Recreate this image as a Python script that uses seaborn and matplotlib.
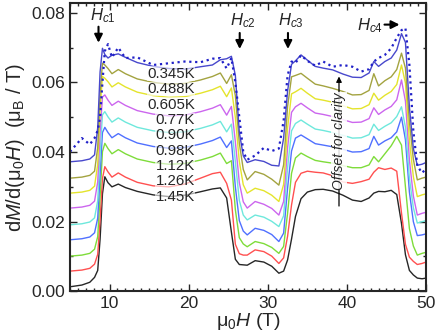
import pandas as pd
import seaborn as sns
import matplotlib.pyplot as plt
from matplotlib.ticker import MultipleLocator

# field grid (T) shared by all curves
field = [5.0, 6.5, 7.5, 8.1, 8.5, 8.8, 9.1, 9.4, 9.8, 10.3, 11.1, 12.0, 13.5, 15.5, 17.5, 19.5,
         21.5, 23.0, 24.0, 24.8, 25.4, 25.9, 26.4, 26.9, 27.4, 28.4, 29.5, 30.5, 31.4, 32.0,
         32.5, 33.0, 33.5, 34.2, 35.0, 36.0, 37.0, 38.2, 39.5, 40.7, 41.8, 42.8, 43.4, 44.0,
         44.8, 45.6, 46.3, 46.9, 47.4, 47.9, 48.4, 48.9, 49.5, 50.0]

# dM/d(mu0H), already offset for clarity
t145 = [0.0013, 0.0018, 0.0026, 0.0040, 0.0060, 0.0150, 0.0280, 0.0329,
        0.0312, 0.0300, 0.0308, 0.0298, 0.0287, 0.0277, 0.0272, 0.0276, 0.0286, 0.0294, 0.0297, 0.0268, 0.0170,
        0.0092, 0.0077, 0.0076, 0.0075, 0.0088, 0.0084, 0.0072, 0.0052,
        0.0058, 0.0090, 0.0150, 0.0215, 0.0266,
        0.0285, 0.0292, 0.0293, 0.0288, 0.0276, 0.0262, 0.0258, 0.0268, 0.0282, 0.0287, 0.0286, 0.0290, 0.0278, 0.0195,
        0.0105, 0.0060, 0.0047, 0.0038, 0.0036, 0.0038]
t126 = [0.0058, 0.0061, 0.0066, 0.0078, 0.0106, 0.0204, 0.0324, 0.0358,
        0.0343, 0.0328, 0.0340, 0.0328, 0.0313, 0.0303, 0.0300, 0.0308, 0.0325, 0.0338, 0.0342, 0.0310, 0.0262,
        0.0135, 0.0108, 0.0104, 0.0104, 0.0119, 0.0114, 0.0101, 0.0080,
        0.0096, 0.0158, 0.0248, 0.0313, 0.0339,
        0.0345, 0.0342, 0.0340, 0.0332, 0.0314, 0.0310, 0.0315, 0.0322, 0.0342, 0.0355, 0.0350, 0.0354, 0.0345, 0.0225,
        0.0135, 0.0098, 0.0086, 0.0077, 0.0080, 0.0084]
t112 = [0.0101, 0.0104, 0.0109, 0.0121, 0.0157, 0.0273, 0.0401, 0.0425,
        0.0410, 0.0395, 0.0407, 0.0395, 0.0380, 0.0370, 0.0365, 0.0367, 0.0377, 0.0387, 0.0397, 0.0367, 0.0375,
        0.0234, 0.0154, 0.0136, 0.0128, 0.0143, 0.0137, 0.0126, 0.0109,
        0.0129, 0.0224, 0.0339, 0.0383, 0.0397,
        0.0387, 0.0376, 0.0372, 0.0368, 0.0361, 0.0355, 0.0355, 0.0363, 0.0387, 0.0372, 0.0395, 0.0418, 0.0445, 0.0420,
        0.0300, 0.0180, 0.0130, 0.0104, 0.0109, 0.0112]
t098 = [0.0148, 0.0151, 0.0156, 0.0168, 0.0210, 0.0335, 0.0456, 0.0471,
        0.0456, 0.0441, 0.0453, 0.0441, 0.0426, 0.0416, 0.0411, 0.0413, 0.0423, 0.0433, 0.0443, 0.0413, 0.0432,
        0.0300, 0.0203, 0.0173, 0.0162, 0.0181, 0.0175, 0.0163, 0.0143,
        0.0167, 0.0296, 0.0403, 0.0440, 0.0449,
        0.0438, 0.0424, 0.0420, 0.0415, 0.0408, 0.0400, 0.0401, 0.0410, 0.0445, 0.0420, 0.0432, 0.0441, 0.0458, 0.0500,
        0.0435, 0.0285, 0.0200, 0.0160, 0.0162, 0.0165]
t090 = [0.0191, 0.0194, 0.0199, 0.0211, 0.0260, 0.0394, 0.0507, 0.0516,
        0.0501, 0.0486, 0.0498, 0.0486, 0.0471, 0.0461, 0.0456, 0.0458, 0.0468, 0.0478, 0.0488, 0.0458, 0.0480,
        0.0372, 0.0261, 0.0219, 0.0205, 0.0219, 0.0213, 0.0201, 0.0186,
        0.0217, 0.0354, 0.0461, 0.0482, 0.0492,
        0.0480, 0.0466, 0.0462, 0.0456, 0.0448, 0.0440, 0.0441, 0.0450, 0.0480, 0.0462, 0.0474, 0.0484, 0.0502, 0.0530,
        0.0471, 0.0325, 0.0240, 0.0196, 0.0200, 0.0203]
t077 = [0.0239, 0.0242, 0.0247, 0.0259, 0.0314, 0.0457, 0.0558, 0.0564,
        0.0549, 0.0534, 0.0546, 0.0534, 0.0519, 0.0509, 0.0504, 0.0506, 0.0516, 0.0526, 0.0536, 0.0506, 0.0531,
        0.0429, 0.0312, 0.0257, 0.0239, 0.0258, 0.0250, 0.0238, 0.0219,
        0.0258, 0.0412, 0.0514, 0.0530, 0.0540,
        0.0527, 0.0512, 0.0508, 0.0502, 0.0493, 0.0485, 0.0486, 0.0496, 0.0527, 0.0508, 0.0521, 0.0531, 0.0550, 0.0607,
        0.0546, 0.0377, 0.0274, 0.0219, 0.0224, 0.0227]
t0605 = [0.0282, 0.0285, 0.0290, 0.0302, 0.0365, 0.0523, 0.0617, 0.0612,
         0.0602, 0.0587, 0.0599, 0.0587, 0.0572, 0.0562, 0.0557, 0.0559, 0.0569, 0.0579, 0.0589, 0.0559, 0.0584,
         0.0499, 0.0373, 0.0306, 0.0282, 0.0296, 0.0289, 0.0276, 0.0258,
         0.0307, 0.0469, 0.0567, 0.0573, 0.0583,
         0.0569, 0.0553, 0.0549, 0.0543, 0.0533, 0.0524, 0.0525, 0.0536, 0.0569, 0.0549, 0.0563, 0.0574, 0.0594, 0.0650,
         0.0598, 0.0434, 0.0329, 0.0272, 0.0277, 0.0280]
t0488 = [0.0325, 0.0328, 0.0333, 0.0345, 0.0413, 0.0568, 0.0655, 0.0650,
         0.0640, 0.0625, 0.0637, 0.0625, 0.0610, 0.0600, 0.0595, 0.0597, 0.0607, 0.0617, 0.0627, 0.0597, 0.0622,
         0.0562, 0.0426, 0.0350, 0.0320, 0.0344, 0.0336, 0.0322, 0.0305,
         0.0363, 0.0530, 0.0616, 0.0620, 0.0626,
         0.0612, 0.0595, 0.0590, 0.0583, 0.0574, 0.0564, 0.0565, 0.0577, 0.0625, 0.0590, 0.0605, 0.0616, 0.0637, 0.0684,
         0.0641, 0.0487, 0.0379, 0.0320, 0.0325, 0.0328]
t0345 = [0.0372, 0.0375, 0.0380, 0.0392, 0.0470, 0.0630, 0.0698, 0.0680,
         0.0670, 0.0678, 0.0682, 0.0672, 0.0657, 0.0646, 0.0640, 0.0638, 0.0645, 0.0650, 0.0665, 0.0668, 0.0675,
         0.0620, 0.0457, 0.0389, 0.0370, 0.0378, 0.0373, 0.0362, 0.0360,
         0.0440, 0.0575, 0.0652, 0.0662, 0.0679,
         0.0664, 0.0646, 0.0641, 0.0636, 0.0624, 0.0615, 0.0614, 0.0627, 0.0660, 0.0646, 0.0660, 0.0670, 0.0693, 0.0740,
         0.0715, 0.0530, 0.0410, 0.0362, 0.0365, 0.0370]
t0345_dot = [0.0401, 0.0440, 0.0422, 0.0440, 0.0462, 0.0500, 0.0600, 0.0690, 0.0710, 0.0672, 0.0700, 0.0670,
             0.0672, 0.0650, 0.0655, 0.0660, 0.0658, 0.0668, 0.0670, 0.0640, 0.0670, 0.0600, 0.0500, 0.0400,
             0.0378, 0.0390, 0.0412, 0.0403, 0.0410, 0.0490, 0.0620, 0.0660, 0.0656, 0.0678, 0.0662, 0.0648,
             0.0660, 0.0645, 0.0650, 0.0645, 0.0631, 0.0638, 0.0660, 0.0670, 0.0679, 0.0698, 0.0728, 0.0750,
             0.0756, 0.0650, 0.0460, 0.0360, 0.0340, 0.0352]

temps = ['1.45K', '1.26K', '1.12K', '0.98K', '0.90K', '0.77K', '0.605K', '0.488K', '0.345K']
curves = [t145, t126, t112, t098, t090, t077, t0605, t0488, t0345]
colors = ['#262626', '#ff5050', '#7edc3a', '#5070ff', '#6ee8dc', '#cc66ee', '#e4e42c', '#a3a340', '#4848cc']

sns.set_style('ticks')
plt.rcParams['font.family'] = ['Liberation Sans', 'DejaVu Sans']
plt.rcParams['mathtext.fontset'] = 'custom'
plt.rcParams['mathtext.rm'] = 'Liberation Sans'
plt.rcParams['mathtext.it'] = 'Liberation Sans:italic'

df = pd.concat([pd.DataFrame({'B': field, 'dM': y, 'T': t}) for t, y in zip(temps, curves)])

fig = plt.figure(figsize=(4.36, 3.36), dpi=100)
ax = fig.add_axes([0.1606, 0.133, 0.8165, 0.858])
sns.lineplot(data=df, x='B', y='dM', hue='T', palette=dict(zip(temps, colors)),
             estimator=None, sort=False, legend=False, lw=1.0, ax=ax)
sns.lineplot(x=field, y=t0345_dot, color='#2020c8', ls=':', lw=1.6,
             estimator=None, sort=False, ax=ax)

ax.set_xlim(5, 50)
ax.set_ylim(0, 0.0828)
ax.xaxis.set_major_locator(MultipleLocator(10))
ax.xaxis.set_minor_locator(MultipleLocator(1))
ax.yaxis.set_major_locator(MultipleLocator(0.02))
ax.yaxis.set_minor_locator(MultipleLocator(0.01))
ax.tick_params(which='both', direction='in', top=True, right=True, labelsize=12.5, width=1)
ax.tick_params(which='major', length=5)
ax.tick_params(which='minor', length=2.5)
for s in ax.spines.values():
    s.set_linewidth(1.5)
ax.set_xlabel(r'μ$_\mathrm{0}$$H$ (T)', fontsize=14, labelpad=0)
ax.set_ylabel(r'd$M$/d(μ$_\mathrm{0}$$H$)  (μ$_\mathrm{B}$ / T)', fontsize=14.5, labelpad=3)

# temperature labels
lab_y = [0.0272, 0.0316, 0.0360, 0.0404, 0.0448, 0.0492, 0.0536, 0.0581, 0.0625]
for t, yy in zip(temps, lab_y):
    ax.text(20.8, yy, t, ha='right', va='center', fontsize=10.8,
            bbox=dict(fc='white', ec='none', alpha=0.6, pad=0.2))

# critical fields
arrow = dict(arrowstyle='-|>', color='k', lw=1.5, mutation_scale=12)
ax.annotate('', xy=(8.6, 0.0706), xytext=(8.6, 0.0768), arrowprops=arrow)
ax.text(9.1, 0.0792, r'$H_{\mathit{c1}}$', ha='center', va='center', fontsize=12)
ax.annotate('', xy=(26.45, 0.0688), xytext=(26.45, 0.0750), arrowprops=arrow)
ax.text(26.85, 0.0777, r'$H_{\mathit{c2}}$', ha='center', va='center', fontsize=12)
ax.annotate('', xy=(32.55, 0.0688), xytext=(32.55, 0.0750), arrowprops=arrow)
ax.text(32.95, 0.0777, r'$H_{\mathit{c3}}$', ha='center', va='center', fontsize=12)
ax.annotate('', xy=(47.0, 0.0766), xytext=(44.4, 0.0766), arrowprops=arrow)
ax.text(42.9, 0.0764, r'$H_{\mathit{c4}}$', ha='center', va='center', fontsize=12)

# offset note
ax.annotate('', xy=(39.0, 0.0625), xytext=(39.0, 0.0237),
            arrowprops=dict(arrowstyle='-|>', color='k', lw=0.9, mutation_scale=8))
ax.text(39.0, 0.0432, 'Offset for clarity', rotation=90, ha='center', va='center',
        fontsize=10, style='italic', bbox=dict(fc='white', ec='none', alpha=0.85, pad=0.4))

fig.savefig('out.png', dpi=100)
